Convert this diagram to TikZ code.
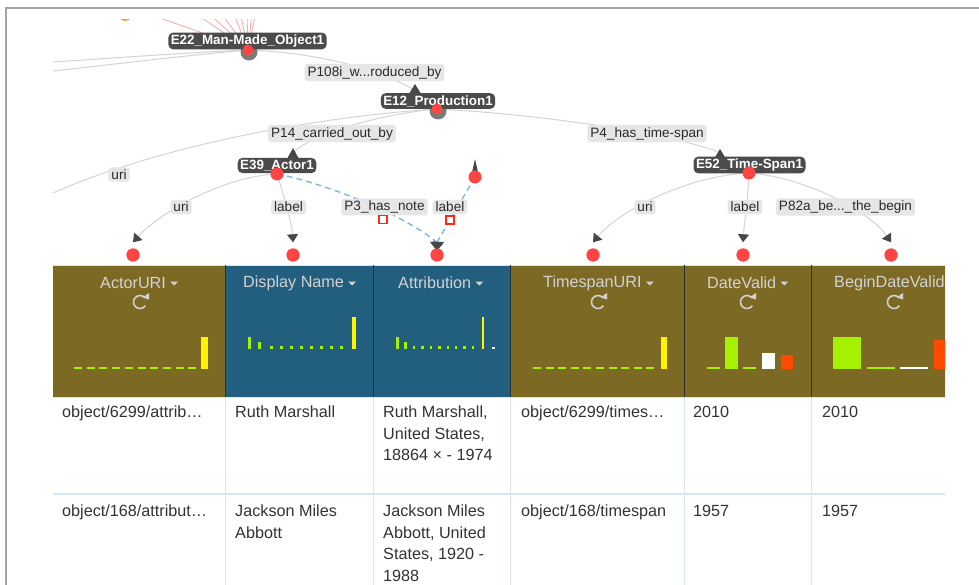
\documentclass[tikz,border=0pt]{standalone}
\usepackage{fontspec}
\setmainfont{Liberation Sans}
\usetikzlibrary{arrows.meta}
\definecolor{hdolive}{HTML}{7C6A24}
\definecolor{hdblue}{HTML}{225F7E}
\definecolor{hdtext}{HTML}{D2D2D2}
\definecolor{hdsep}{HTML}{2E2E2E}
\definecolor{bargreen}{HTML}{A4F200}
\definecolor{baryellow}{HTML}{FFF500}
\definecolor{barorange}{HTML}{FF4A00}
\definecolor{edgegray}{HTML}{D4D4D4}
\definecolor{tipgray}{HTML}{474747}
\definecolor{darklab}{HTML}{4B4B4B}
\definecolor{lightlab}{HTML}{E6E6E6}
\definecolor{labtext}{HTML}{2A2A2A}
\definecolor{reddot}{HTML}{FF4444}
\definecolor{ringgray}{HTML}{7A7A7A}
\definecolor{dashblue}{HTML}{7DB9DD}
\definecolor{rowline}{HTML}{D6E7F3}
\definecolor{bodytext}{HTML}{333333}
\definecolor{framecol}{HTML}{A3A3A3}
\definecolor{pinkline}{HTML}{F6A9A9}
\definecolor{sqred}{HTML}{FF2A10}
\begin{document}
\begin{tikzpicture}[x=1pt,y=-1pt,
  lbl/.style={fill=lightlab, rounded corners=3pt, inner xsep=3pt, inner ysep=2.2pt, font=\fontsize{13.6}{13.6}\selectfont, text=labtext},
  dlbl/.style={fill=darklab, rounded corners=5pt, inner xsep=2.5pt, inner ysep=2.2pt, font=\fontsize{13.4}{13.4}\selectfont\bfseries, text=white},
  rdot/.style={circle, fill=reddot, minimum size=13pt, inner sep=0pt},
  ring/.style={circle, fill=ringgray, minimum size=17pt, inner sep=0pt},
  edge/.style={draw=edgegray, line width=1pt},
  tipedge/.style={edge, -{Triangle[width=11pt,length=8pt,color=tipgray]}},
  dedge/.style={draw=dashblue, line width=1.4pt, dash pattern=on 6pt off 4pt},
  hd/.style={font=\fontsize{16.2}{16.2}\selectfont, text=hdtext, anchor=west, inner sep=0pt},
  cell/.style={font=\fontsize{16.2}{21.6}\selectfont, text=bodytext, anchor=north west, inner sep=0pt, align=left},
  sqbox/.style={draw=sqred, fill=white, line width=1.8pt, minimum size=8pt, inner sep=0pt},
  refresh/.style={draw=hdtext, line width=1.6pt},
  tipfill/.style={fill=tipgray}
]
\useasboundingbox (0,0) rectangle (979,585);
\fill[white] (0,0) rectangle (979,585);
% frame
\draw[framecol, line width=2.5pt] (6,585) -- (6,8) -- (979,8);

% ---------------- table ----------------
\begin{scope}
\clip (53,264) rectangle (945,585);
\fill[hdolive] (53,265) rectangle (225,397);
\fill[hdblue] (225,265) rectangle (510,397);
\fill[hdolive] (510,265) rectangle (960,397);
\draw[rowline, line width=1pt] (53,265) -- (960,265);
\draw[rowline, line width=1pt] (53,397) -- (960,397);
\foreach \x in {225,373,510,684,811} \draw[hdsep, line width=0.9pt] (\x,265) -- (\x,397);
\foreach \x in {225,373,510,684,811} \draw[rowline, line width=1pt] (\x,398) -- (\x,585);
\draw[rowline, line width=1.5pt] (53,494) -- (960,494);

% header texts
\node[hd] (h1) at (100,283) {ActorURI};
\node[hd] (h2) at (243,283) {Display Name};
\node[hd] (h3) at (398,283) {Attribution};
\node[hd] (h4) at (543,283) {TimespanURI};
\node[hd] (h5) at (707,283) {DateValid};
\node[hd] (h6) at (834,283) {BeginDateValid};
\foreach \h in {h1,h2,h3,h4,h5,h6}
  \fill[hdtext] (\h.east) ++(4,-1.5) -- ++(8,0) -- ++(-4,4) -- cycle;
% refresh icons
\foreach \r in {(140,302),(598,302),(747,302),(894,302)} {
  \draw[refresh] \r ++(35:6.5) arc[start angle=35,end angle=318,radius=6.5];
  \fill[hdtext] \r ++(2.5,-4.5) -- ++(6.5,-4.5) -- ++(0,6.5) -- cycle;
}
% histograms: ActorURI
\foreach \i in {0,...,9} \fill[bargreen] ({74+12.7*\i},366.8) rectangle ++(8,2.6);
\fill[baryellow] (201,337) rectangle (208,369.4);
% Display Name
\fill[bargreen] (247.5,337) rectangle (251,349);
\fill[bargreen] (257.5,342) rectangle (261,349);
\foreach \i in {0,...,7} \fill[bargreen] ({270+10*\i},345.5) rectangle ++(3.2,3.5);
\fill[baryellow] (351.5,317) rectangle (355.5,349);
% Attribution
\fill[bargreen] (395.5,337) rectangle (398.5,349);
\fill[bargreen] (403.5,342) rectangle (406.5,349);
\foreach \i in {0,...,7} \fill[bargreen] ({413+8.4*\i},346) rectangle ++(2.4,3);
\fill[baryellow] (481.5,317) rectangle (484,349);
\fill[white] (492,346.5) rectangle (494.5,349);
% TimespanURI
\foreach \i in {0,...,9} \fill[bargreen] ({533+12.6*\i},366.8) rectangle ++(8,2.6);
\fill[baryellow] (660.5,337) rectangle (667,369.4);
% DateValid
\fill[bargreen] (707,366.8) rectangle (720,369.4);
\fill[bargreen] (725,337) rectangle (738,369.4);
\fill[bargreen] (743,366.8) rectangle (756,369.4);
\fill[white] (762,353) rectangle (775,369.4);
\fill[barorange] (781,355) rectangle (793,369.4);
% BeginDateValid
\fill[bargreen] (833,337) rectangle (861,369.4);
\fill[bargreen] (867,366.8) rectangle (895,369.4);
\fill[white] (900,366.8) rectangle (928,369.4);
\fill[barorange] (934,340) rectangle (955,369.4);

% body cells
\node[cell] (c11) at (62,405.5) {object/6299/attrib…};
\node[cell] (c12) at (235,405.5) {Ruth Marshall};
\node[cell] (c13) at (383,405.5) {Ruth Marshall,\\United States,\\18864 × - 1974};
\node[cell] (c14) at (521,405.5) {object/6299/times…};
\node[cell] (c15) at (693,405.5) {2010};
\node[cell] (c16) at (822,405.5) {2010};
\node[cell] (c21) at (62,504.5) {object/168/attribut…};
\node[cell] (c22) at (235,504.5) {Jackson Miles\\Abbott};
\node[cell] (c23) at (383,504.5) {Jackson Miles\\Abbott, United\\States, 1920 -\\1988};
\node[cell] (c24) at (521,504.5) {object/168/timespan};
\node[cell] (c25) at (693,504.5) {1957};
\node[cell] (c26) at (822,504.5) {1957};
\end{scope}

% ---------------- graph ----------------
\begin{scope}
\clip (53,20) rectangle (979,264);
% pink fan above E22
\foreach \x in {143,193,207,220,233,240,247,252,256}
  \draw[pinkline, line width=0.8pt] (248,49) -- (\x,12);
\fill[orange!80] (125,18) ellipse (5 and 3);

% dot positions
\coordinate (e22p) at (248,50);
\coordinate (e12p) at (437,109);
\coordinate (e39p) at (277,174);
\coordinate (e52p) at (749,173);
\coordinate (xp) at (475,177);
\coordinate (left1) at (53,62);
\coordinate (left2) at (53,71);
\coordinate (left3) at (53,193);

% gray edges
\draw[edge] (e22p) .. controls (180,53) and (100,59) .. (left1);
\draw[edge] (e22p) .. controls (170,57) and (100,66) .. (left2);
\draw[edge] (e22p) .. controls (310,52) and (380,68) .. (414,90);
\draw[edge] (e12p) .. controls (300,118) and (150,150) .. (left3);
\draw[edge] (e12p) .. controls (400,112) and (320,128) .. (294,152);
\draw[edge] (e12p) .. controls (540,114) and (680,135) .. (720,153);

% bottom dots (named)
\node[rdot] (b1) at (133,255) {};
\node[rdot] (b2) at (293,255) {};
\node[rdot] (b3) at (437,255) {};
\node[rdot] (b4) at (593,255) {};
\node[rdot] (b5) at (743,255) {};
\node[rdot] (b6) at (891,255) {};

\draw[tipedge] (e39p) .. controls (225,176) and (160,212) .. ([yshift=6pt]b1.north);
\draw[tipedge] (e39p) .. controls (284,195) and (292,225) .. ([yshift=6pt]b2.north);
\draw[tipedge] (e52p) .. controls (685,176) and (618,212) .. ([yshift=6pt]b4.north);
\draw[tipedge] (e52p) .. controls (748,200) and (744,225) .. ([yshift=6pt]b5.north);
\draw[tipedge] (e52p) .. controls (810,178) and (872,214) .. ([yshift=6pt]b6.north);
% dashed blue
\draw[dedge] (e39p) .. controls (320,182) and (400,212) .. ([yshift=6pt]b3.north);
\draw[dedge] (xp) -- ([yshift=6pt]b3.north);
\fill[tipgray] (430,242) -- (444,242) -- (437,251) -- cycle;
\fill[tipgray] (433,241) -- (443,244) -- (436,250) -- cycle;

% redraw bottom dots over tips
\foreach \b in {b1,b2,b3,b4,b5,b6} \fill[reddot] (\b) circle (6.5);

% extra dot with tip
\fill[tipgray] (472.3,171) -- (477.7,171) -- (475,159) -- cycle;
\node[rdot] (xd) at (xp) {};

% rings + dots
\node[ring] (e22r) at (249,52) {};
\node[ring] (e12r) at (438,111) {};

% labels
\node[lbl] (p108) at (374.5,72.5) {P108i\_w...roduced\_by};
\node[lbl] (p14) at (332,133.5) {P14\_carried\_out\_by};
\node[lbl] (p4) at (647,133.5) {P4\_has\_time-span};
\node[lbl] (u1) at (119,174.5) {uri};
\node[lbl] (u2) at (181,207) {uri};
\node[lbl] (l2) at (288.5,207) {label};
\node[lbl] (p3) at (384.5,207) {P3\_has\_note};
\node[lbl] (l3) at (450,207) {label};
\node[lbl] (u4) at (645,207) {uri};
\node[lbl] (l5) at (745,207) {label};
\node[lbl] (p82) at (845.5,207) {P82a\_be...\_the\_begin};
\node[sqbox] (s1) at (383,219.5) {};
\node[sqbox] (s2) at (450,220) {};

% dark labels with pointer tips
\fill[tipfill] (409.5,93) -- (420.5,93) -- (415,84) -- cycle;
\fill[tipfill] (287.5,158) -- (298.5,158) -- (293,148) -- cycle;
\fill[tipfill] (714.5,158) -- (725.5,158) -- (720,149) -- cycle;
\node[dlbl] (e22) at (247.5,41) {E22\_Man-Made\_Object1};
\node[dlbl] (e12) at (438,101) {E12\_Production1};
\node[dlbl] (e39) at (277,165.5) {E39\_Actor1};
\node[dlbl] (e52) at (749.5,165) {E52\_Time-Span1};

% red dots on top
\node[rdot, minimum size=11pt] (e22d) at (e22p) {};
\node[rdot, minimum size=11pt] (e12d) at (e12p) {};
\node[rdot] (e39d) at (e39p) {};
\node[rdot] (e52d) at (e52p) {};
\end{scope}
\end{tikzpicture}
\end{document}
